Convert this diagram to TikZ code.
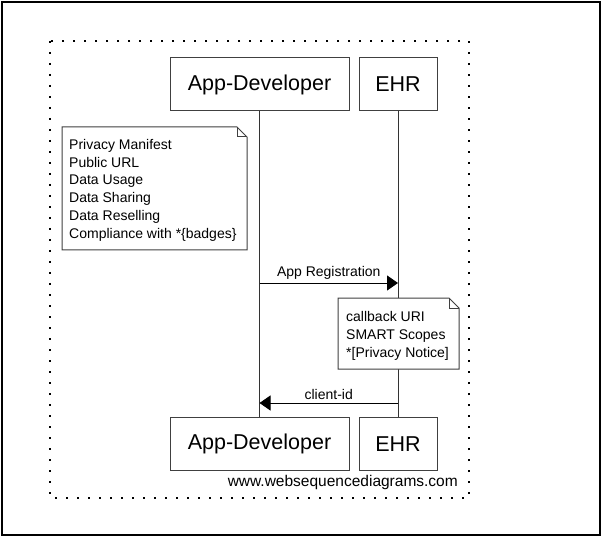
\documentclass[tikz,border=0pt]{standalone}
\usepackage{fontspec}
\setmainfont{Liberation Sans}
\usetikzlibrary{arrows.meta}
\begin{document}
\begin{tikzpicture}[x=1pt,y=-1pt,
  actor/.style={draw=black!75,line width=1pt,minimum height=53pt,inner sep=0pt,font=\fontsize{21.5}{24}\selectfont},
  life/.style={draw=black!80,line width=1pt},
  msg/.style={draw=black,line width=1pt,-{Triangle[length=11pt,width=15pt]}},
  lbl/.style={font=\fontsize{14}{16}\selectfont,inner sep=0pt},
  notebox/.style={draw=black!75,line width=1pt,fill=white},
  notetext/.style={font=\fontsize{14}{17.8}\selectfont,align=left,inner sep=0pt,anchor=north west}]
\useasboundingbox (0,0) rectangle (602,537);
\draw[line width=2.5pt] (2,2) rectangle (600,535);
\draw[line width=2pt,dash pattern=on 2pt off 9pt] (50,41) rectangle (469,498);
% actors
\node[actor,minimum width=179pt] (appTop) at (259.5,84.5) {App-Developer};
\node[actor,minimum width=78pt] (ehrTop) at (398,84.5) {EHR};
\node[actor,minimum width=179pt] (appBot) at (259.5,444) {App-Developer};
\node[actor,minimum width=78pt] (ehrBot) at (398,444) {EHR};
\draw[life] (appTop.south) -- (appBot.north);
\draw[life] (ehrTop.south) -- (ehrBot.north);
% note 1
\draw[notebox] (62,127) -- (237,127) -- (247,137) -- (247,250) -- (62,250) -- cycle;
\draw[draw=black!75,line width=1pt] (237,127) -- (237,137) -- (247,137);
\node[notetext] (note1) at (69,139) {Privacy Manifest\\Public URL\\Data Usage\\Data Sharing\\Data Reselling\\Compliance with *\{badges\}};
% message 1
\coordinate (m1s) at (appTop.south |- 0,283);
\coordinate (m1e) at (ehrTop.south |- 0,283);
\draw[msg] (m1s) -- node[lbl,above=3pt] (m1l) {App Registration} (m1e);
% note 2
\draw[notebox] (338,298) -- (449,298) -- (459,308) -- (459,369) -- (338,369) -- cycle;
\draw[draw=black!75,line width=1pt] (449,298) -- (449,308) -- (459,308);
\node[notetext] (note2) at (346,311.5) {callback URI\\SMART Scopes\\*[Privacy Notice]};
% message 2
\coordinate (m2s) at (ehrTop.south |- 0,403);
\coordinate (m2e) at (appTop.south |- 0,403);
\draw[msg] (m2s) -- node[lbl,above=3pt] (m2l) {client-id} (m2e);
% watermark
\node[font=\fontsize{15.5}{17}\selectfont,anchor=east,inner sep=0pt] (wm) at (458,482) {www.websequencediagrams.com};
\end{tikzpicture}
\end{document}
